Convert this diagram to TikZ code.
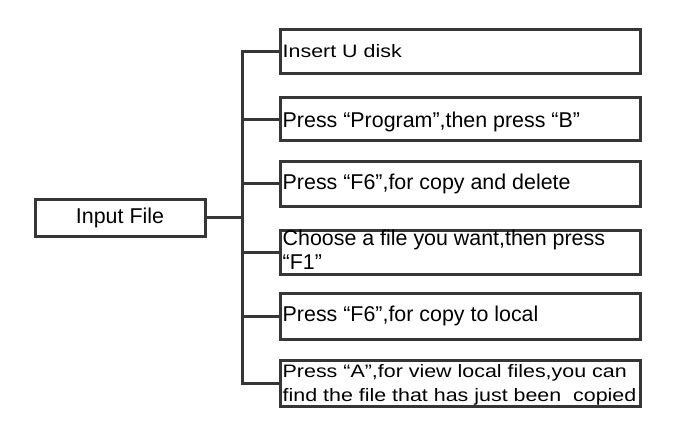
\documentclass[tikz,border=0pt]{standalone}
\usepackage{fontspec}
\setmainfont{Liberation Sans}
\newfontfamily\widefont[FakeStretch=1.19]{Liberation Sans}
\definecolor{linegray}{HTML}{363636}
\begin{document}
\begin{tikzpicture}[x=1pt,y=-1pt,
  stepbox/.style={draw=linegray,line width=3pt,minimum width=360pt,inner sep=0pt},
  steptext/.style={anchor=base west,inner sep=0pt,font=\fontsize{21.4}{23}\selectfont},
  widetext/.style={anchor=base west,inner sep=0pt,font=\widefont\fontsize{18}{23}\selectfont},
  inbox/.style={draw=linegray,line width=3pt,minimum width=170pt,minimum height=37pt,
    inner sep=0pt,font=\fontsize{21.4}{23}\selectfont},
  conn/.style={draw=linegray,line width=3pt}]
\useasboundingbox (0,0) rectangle (678,442);
\node[inbox] (in) at (120,217.5) {Input File};
% boxes
\node[stepbox,minimum height=44pt] (b1) at (460,51.3) {};
\node[stepbox,minimum height=43.4pt] (b2) at (460,119) {};
\node[stepbox,minimum height=45pt] (b3) at (460,183.5) {};
\node[stepbox,minimum height=44pt] (b4) at (460,252) {};
\node[stepbox,minimum height=46pt] (b5) at (460,316) {};
\node[stepbox,minimum height=46pt] (b6) at (460,383.7) {};
% texts
\node[widetext] (t1) at (282.5,57.3) {Insert U disk};
\node[steptext] (t2) at (282.5,127.3) {Press “Program”,then press “B”};
\node[steptext] (t3) at (282.5,189.5) {Press “F6”,for copy and delete};
\node[steptext] (t4a) at (282.5,245.5) {Choose a file you want,then press};
\node[steptext] (t4b) at (282.5,269.2) {“F1”};
\node[steptext] (t5) at (282.5,321.7) {Press “F6”,for copy to local};
\node[widetext] (t6a) at (282.5,377) {Press “A”,for view local files,you can};
\node[widetext] (t6b) at (282.5,401.5) {find the file that has just been\ \ copied};
% connectors
\coordinate (tr) at (242,0);
\draw[conn] (b1.west) -- (b1.west -| tr) -- (b6.west -| tr) -- (b6.west);
\foreach \b in {b2,b3,b4,b5} \draw[conn] (\b.west) -- (\b.west -| tr);
\draw[conn] (in.east) -- (in.east -| tr);
\end{tikzpicture}
\end{document}
